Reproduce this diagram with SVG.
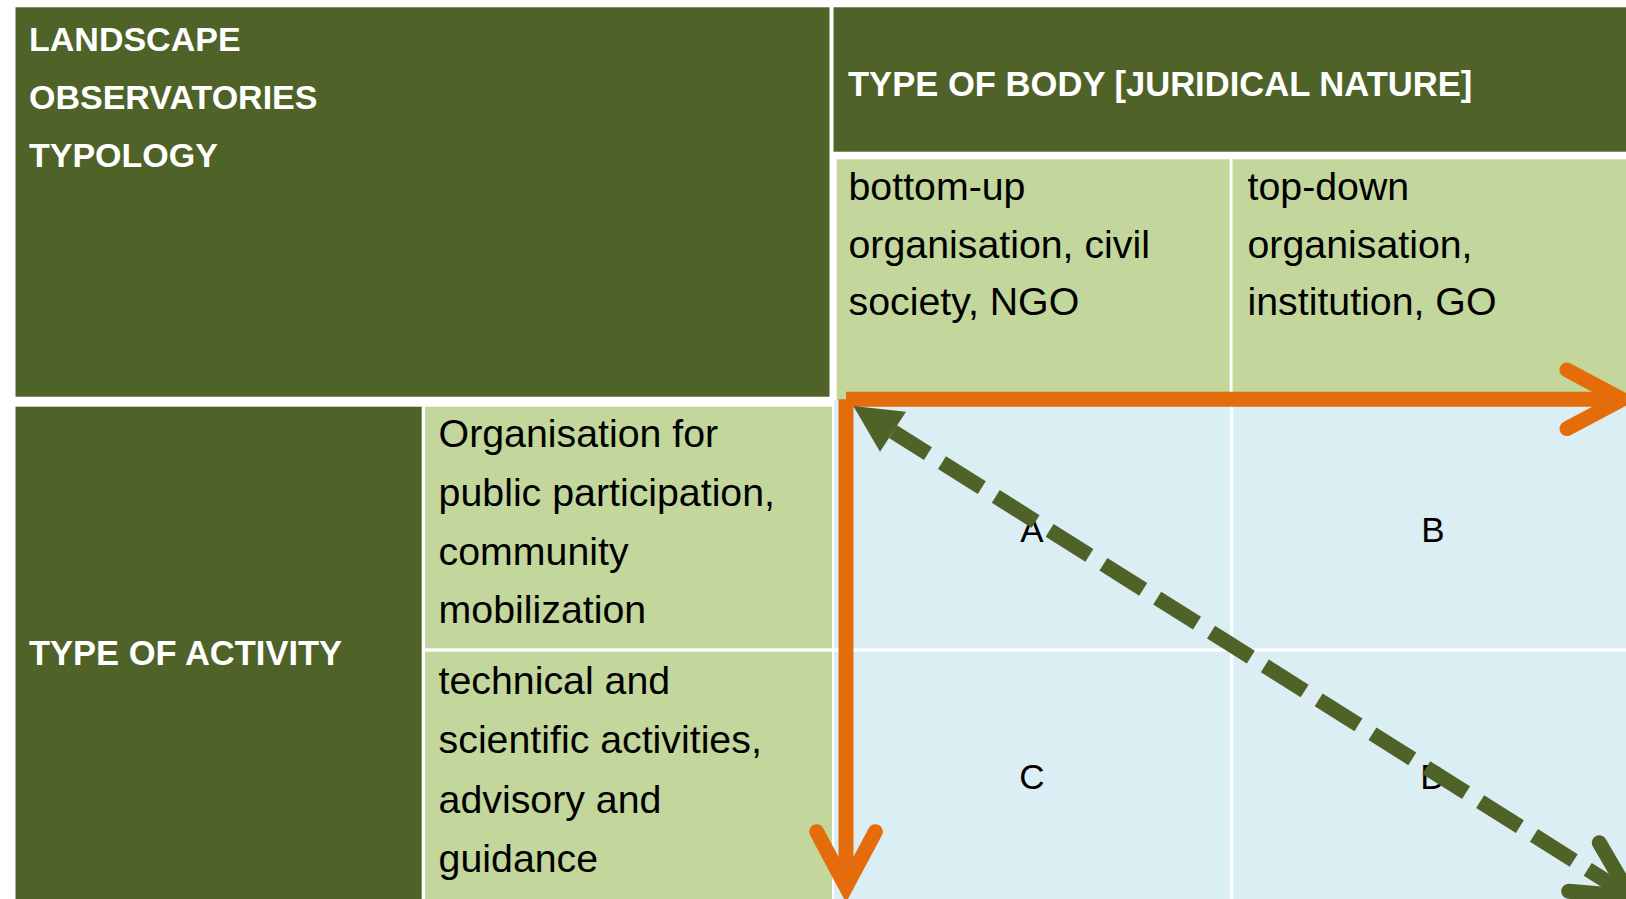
<svg xmlns="http://www.w3.org/2000/svg" width="1626" height="899" viewBox="0 0 1626 899">
<defs>
<style>
.dk{fill:#4F6228}
.lg{fill:#C3D69B}
.lb{fill:#DBEEF3}
.hb{font-family:"Liberation Sans",Arial,sans-serif;font-weight:bold;font-size:34px;fill:#FFFFFF}
.tx{font-family:"Liberation Sans",Arial,sans-serif;font-size:39.3px;fill:#000000}
.lt{font-family:"Liberation Sans",Arial,sans-serif;font-size:35px;fill:#000000;text-anchor:middle}
.or{fill:none;stroke:#E46C0A;stroke-width:15}
.orh{fill:none;stroke:#E46C0A;stroke-width:15;stroke-linecap:round;stroke-linejoin:miter;stroke-miterlimit:10}
.gd{fill:none;stroke:#4F6228;stroke-width:15;stroke-dasharray:47 16.6;stroke-dashoffset:5.7}
.gh{fill:none;stroke:#4F6228;stroke-width:15;stroke-linecap:round;stroke-linejoin:miter;stroke-miterlimit:10}
</style>
</defs>
<rect width="1626" height="899" fill="#FFFFFF"/>

<g id="typology">
<rect class="dk" x="15.5" y="7.3" width="814" height="389.4"/>
<text class="hb" x="29" y="51">LANDSCAPE</text>
<text class="hb" x="29" y="108.5">OBSERVATORIES</text>
<text class="hb" x="29" y="166.5">TYPOLOGY</text>
</g>

<g id="type-of-body">
<rect class="dk" x="833.5" y="7.3" width="792.5" height="144.4"/>
<text class="hb" x="848" y="96" style="font-size:34.6px">TYPE OF BODY [JURIDICAL NATURE]</text>
</g>

<g id="bottom-up">
<rect class="lg" x="836.7" y="159.3" width="393" height="240.7"/>
<text class="tx" x="848.5" y="200">bottom-up</text>
<text class="tx" x="848.5" y="257.5">organisation, civil</text>
<text class="tx" x="848.5" y="315">society, NGO</text>
</g>

<g id="top-down">
<rect class="lg" x="1232.5" y="159.3" width="393.5" height="240.7"/>
<text class="tx" x="1247.5" y="200">top-down</text>
<text class="tx" x="1247.5" y="257.5">organisation,</text>
<text class="tx" x="1247.5" y="315">institution, GO</text>
</g>

<g id="type-of-activity">
<rect class="dk" x="15.5" y="406.7" width="406.2" height="492.3"/>
<text class="hb" x="29" y="665" style="font-size:34.5px">TYPE OF ACTIVITY</text>
</g>

<g id="public-participation">
<rect class="lg" x="425" y="406.7" width="407" height="241.6"/>
<text class="tx" x="438.6" y="446.5">Organisation for</text>
<text class="tx" x="438.6" y="505.5">public participation,</text>
<text class="tx" x="438.6" y="565">community</text>
<text class="tx" x="438.6" y="623">mobilization</text>
</g>

<g id="technical-scientific">
<rect class="lg" x="425" y="651.7" width="407" height="247.3"/>
<text class="tx" x="438.6" y="693.5">technical and</text>
<text class="tx" x="438.6" y="753">scientific activities,</text>
<text class="tx" x="438.6" y="812.5">advisory and</text>
<text class="tx" x="438.6" y="871.5">guidance</text>
</g>

<g id="cell-A">
<rect class="lb" x="834" y="400" width="396" height="248.3"/>
<text class="lt" x="1032" y="542">A</text>
</g>

<g id="cell-B">
<rect class="lb" x="1233.3" y="400" width="392.7" height="248.3"/>
<text class="lt" x="1433" y="542">B</text>
</g>

<g id="cell-C">
<rect class="lb" x="834" y="651.7" width="396" height="247.3"/>
<text class="lt" x="1032" y="789">C</text>
</g>

<g id="cell-D">
<rect class="lb" x="1233.3" y="651.7" width="392.7" height="247.3"/>
<text class="lt" x="1433" y="789">D</text>
</g>

<g id="connectors">
<line class="or" x1="846" y1="399.3" x2="1616" y2="399.3"/>
<polyline class="orh" points="1567,370 1622,399.3 1567,428.6"/>
<line class="or" x1="846" y1="399.3" x2="846" y2="880"/>
<polyline class="orh" points="816.7,831.7 846,886.7 875.3,831.7"/>
<polygon points="853.3,406 906,411.7 880,451.7" fill="#4F6228"/>
<line class="gd" x1="893" y1="431.7" x2="1630.5" y2="896.3"/>
<polyline class="gh" points="1599.3,842.7 1630.5,896.3 1568.7,891.3"/>
</g>
</svg>
